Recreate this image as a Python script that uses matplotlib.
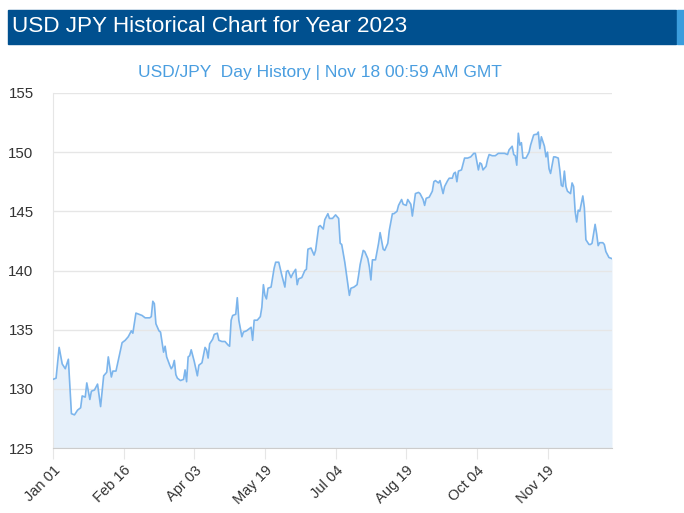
"""
USD/JPY 2023 - historial diario (gráfico de área)
"""
import matplotlib
matplotlib.use('Agg')
import matplotlib.pyplot as plt
import matplotlib.dates as mdates
import numpy as np

# días desde el 1 de enero de 2023 y cotización de cierre
day_offsets = [
    0, 2, 4, 6, 8, 10, 12, 14, 16, 18, 19, 21, 22, 24, 25, 27, 29, 31, 33, 35,
    36, 38, 39, 41, 45, 47, 49, 51, 52, 54, 56, 58, 60, 61, 63, 64, 65, 66, 67, 69,
    70, 72, 73, 74, 76, 77, 78, 79, 80, 81, 83, 85, 86, 87, 88, 89, 90, 92, 94, 95,
    97, 99, 100, 101, 102, 104, 105, 107, 108, 110, 112, 114, 115, 116, 117, 119, 120, 121, 123, 124,
    126, 128, 129, 130, 131, 133, 135, 136, 137, 138, 139, 140, 142, 144, 145, 147, 149, 151, 152, 153,
    155, 156, 158, 159, 160, 162, 164, 165, 166, 168, 170, 171, 173, 174, 176, 177, 179, 180, 182, 184,
    186, 187, 188, 190, 192, 193, 194, 196, 198, 199, 200, 202, 203, 205, 206, 207, 208, 210, 212, 213,
    215, 216, 218, 219, 221, 222, 224, 225, 227, 228, 230, 231, 233, 234, 236, 238, 239, 241, 242, 243,
    245, 247, 248, 249, 251, 252, 254, 255, 257, 258, 260, 261, 262, 263, 264, 266, 268, 270, 272, 274,
    275, 276, 277, 278, 279, 280, 282, 283, 284, 286, 288, 290, 292, 294, 296, 297, 299, 300, 301, 302,
    303, 304, 305, 306, 308, 310, 311, 313, 314, 315, 316, 317, 318, 320, 321, 322, 323, 324, 326, 327,
    329, 330, 331, 332, 333, 334, 335, 337, 338, 339, 340, 341, 342, 343, 345, 346, 347, 349, 350, 351,
    353, 354, 355, 356, 358, 359, 360, 362, 364,
]
rates = [
    130.8, 130.9, 133.5, 132.1, 131.7, 132.5, 127.9, 127.8, 128.2, 128.4, 129.4, 129.3, 130.5, 129.1, 129.8, 129.9, 130.4, 128.5, 131.1, 131.4,
    132.7, 131.0, 131.5, 131.5, 133.9, 134.1, 134.4, 134.9, 134.7, 136.4, 136.3, 136.2, 136.0, 136.0, 136.0, 136.1, 137.4, 137.2, 135.5, 134.9,
    134.8, 133.1, 133.6, 132.7, 132.0, 131.7, 131.9, 132.4, 131.2, 130.9, 130.7, 130.8, 131.6, 130.6, 132.7, 132.8, 133.3, 132.3, 131.1, 132.0,
    132.2, 133.5, 133.3, 132.6, 133.8, 134.2, 134.6, 134.7, 134.1, 134.0, 134.0, 133.7, 133.6, 135.8, 136.2, 136.3, 137.7, 135.8, 134.4, 134.8,
    134.9, 135.1, 135.2, 134.1, 135.8, 135.8, 136.1, 136.9, 138.8, 137.9, 137.6, 138.5, 138.6, 140.2, 140.7, 140.7, 139.6, 138.6, 139.9, 140.0,
    139.4, 139.7, 140.1, 138.8, 139.3, 139.4, 140.0, 140.1, 141.8, 141.9, 141.3, 141.7, 143.7, 143.8, 143.5, 144.3, 144.8, 144.4, 144.4, 144.7,
    144.4, 142.3, 142.2, 140.7, 138.8, 137.9, 138.5, 138.6, 138.8, 139.6, 140.5, 141.7, 141.6, 141.0, 140.3, 139.2, 140.9, 140.9, 142.3, 143.2,
    141.8, 141.7, 142.3, 143.4, 144.8, 144.8, 145.0, 145.5, 146.0, 145.6, 145.5, 146.0, 145.6, 144.6, 146.5, 146.6, 146.5, 146.0, 145.5, 146.1,
    146.2, 146.7, 147.5, 147.6, 147.4, 147.6, 146.5, 147.1, 147.6, 147.8, 147.8, 148.2, 148.3, 147.5, 148.4, 148.5, 149.5, 149.5, 149.6, 149.9,
    149.9, 149.2, 148.5, 149.1, 149.0, 148.5, 148.8, 149.4, 149.8, 149.7, 149.7, 149.9, 149.9, 149.9, 149.8, 150.2, 150.5, 149.8, 149.7, 148.9,
    151.6, 150.6, 150.8, 149.5, 149.5, 150.0, 150.6, 151.45, 151.5, 151.5, 151.7, 150.3, 151.3, 150.5, 149.6, 150.0, 148.6, 148.2, 149.6, 149.6,
    149.5, 148.5, 147.2, 147.1, 148.4, 147.1, 146.7, 146.5, 147.4, 147.1, 145.0, 144.1, 145.1, 145.0, 146.3, 145.3, 142.6, 142.2, 142.2, 142.3,
    143.9, 143.1, 142.1, 142.35, 142.35, 142.2, 141.6, 141.1, 141.0,
]
y_ticks = [125, 130, 135, 140, 145, 150, 155]
title = "USD JPY Historical Chart for Year 2023"
subtitle = "USD/JPY  Day History | Nov 18 00:59 AM GMT"

plt.rcParams['font.family'] = ['Liberation Sans', 'DejaVu Sans']

dates = np.datetime64('2023-01-01') + np.array(day_offsets).astype('timedelta64[D]')

fig = plt.figure(figsize=(6.84, 5.13), dpi=100)

# Cabecera azul
fig.patches.append(plt.Rectangle((8 / 684, 1 - 44 / 513), 668 / 684, 34 / 513,
                                 transform=fig.transFigure, color='#00508f', zorder=0))
fig.patches.append(plt.Rectangle((677 / 684, 1 - 44 / 513), 7 / 684, 34 / 513,
                                 transform=fig.transFigure, color='#3b9ddd', zorder=0))
fig.text(12 / 684, 1 - 27 / 513, title, color='white', fontsize=16.2, va='center', ha='left')
fig.text(320 / 684, 1 - 72 / 513, subtitle, color='#4a9ee0', fontsize=12.5, va='center', ha='center')

ax = fig.add_axes([53 / 684, 1 - 448 / 513, 559 / 684, 355 / 513])
ax.fill_between(dates, rates, 125, color='#e6f0fa', linewidth=0, zorder=1)
ax.plot(dates, rates, color='#7cb5ec', linewidth=1.2, zorder=3)

ax.set_ylim(125, 155)
ax.set_yticks(y_ticks)
ax.set_xlim(dates[0], dates[-1])
ax.grid(axis='y', color='#e6e6e6', linewidth=1, zorder=0)

tick_dates = np.datetime64('2023-01-01') + (np.arange(8) * 46).astype('timedelta64[D]')
ax.set_xticks(tick_dates)
ax.xaxis.set_major_formatter(mdates.DateFormatter('%b %d'))
for lbl in ax.get_xticklabels():
    lbl.set_rotation(45)
    lbl.set_ha('right')
    lbl.set_rotation_mode('anchor')

ax.tick_params(axis='y', length=0, pad=14, labelsize=10.8, labelcolor='#333333')
ax.tick_params(axis='x', length=8, color='#e6e6e6', pad=3, labelsize=10.5, labelcolor='#333333')

for side in ['top', 'right']:
    ax.spines[side].set_visible(False)
ax.spines['left'].set_color('#e6e6e6')
ax.spines['bottom'].set_color('#cccccc')

plt.savefig('out.png', dpi=100)
plt.close()
